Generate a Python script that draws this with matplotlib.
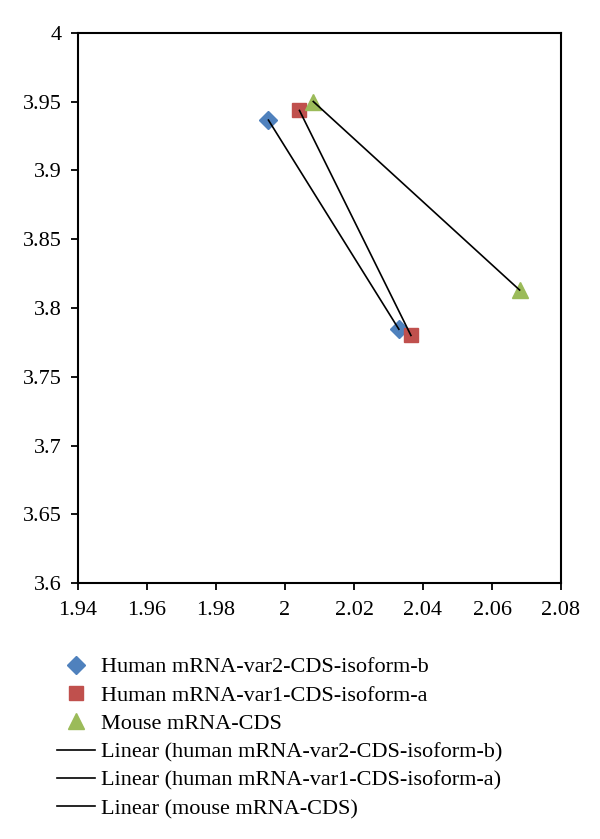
import numpy as np
import matplotlib
matplotlib.use('Agg')
import matplotlib.pyplot as plt
from matplotlib.lines import Line2D
from matplotlib.ticker import MultipleLocator

plt.rcParams['font.family'] = ['Liberation Serif', 'DejaVu Serif']

series_names = ['Human mRNA-var2-CDS-isoform-b',
                'Human mRNA-var1-CDS-isoform-a',
                'Mouse mRNA-CDS']
trend_names = ['Linear (human mRNA-var2-CDS-isoform-b)',
               'Linear (human mRNA-var1-CDS-isoform-a)',
               'Linear (mouse mRNA-CDS)']

var2_x = [1.9952, 2.0330]
var2_y = [3.9365, 3.7845]
var1_x = [2.0042, 2.0365]
var1_y = [3.9435, 3.7800]
mouse_x = [2.0082, 2.0680]
mouse_y = [3.9500, 3.8130]

colors = ['#4F81BD', '#C0504D', '#9BBB59']
markers = ['D', 's', '^']
sizes = [9, 10.5, 12]

fig = plt.figure(figsize=(6, 8.39), dpi=100)
ax = fig.add_axes([0.13, 0.305, 0.805, 0.656])

data = [(var2_x, var2_y), (var1_x, var1_y), (mouse_x, mouse_y)]

for (xs, ys), c, m, s in zip(data, colors, markers, sizes):
    ax.plot(xs, ys, ls='none', marker=m, ms=s, color=c, mec=c)

# linear trendlines
for xs, ys in data:
    k, b = np.polyfit(xs, ys, 1)
    xx = np.array([min(xs), max(xs)])
    ax.plot(xx, k * xx + b, color='black', lw=1.2, zorder=3)

ax.set_xlim(1.94, 2.08)
ax.set_ylim(3.6, 4.0)
ax.xaxis.set_major_locator(MultipleLocator(0.02))
ax.yaxis.set_major_locator(MultipleLocator(0.05))
ax.set_xticklabels([f'{v:g}' for v in ax.get_xticks()])
ax.set_yticklabels([f'{v:g}' for v in ax.get_yticks()])
ax.tick_params(direction='out', length=5, width=1.3, labelsize=16, pad=7)
ax.tick_params(axis='x', pad=8)
for sp in ax.spines.values():
    sp.set_linewidth(1.5)

handles = []
for c, m, s in zip(colors, markers, sizes):
    handles.append(Line2D([], [], ls='none', marker=m, ms=s, color=c, mec=c))
for _ in trend_names:
    handles.append(Line2D([], [], color='black', lw=1.2))

fig.legend(handles, series_names + trend_names, loc='upper left',
           bbox_to_anchor=(0.095, 0.217), frameon=False, fontsize=16,
           handlelength=1.7, handletextpad=0.3, labelspacing=0.35,
           borderpad=0, borderaxespad=0)

fig.savefig('out.png', dpi=100)
